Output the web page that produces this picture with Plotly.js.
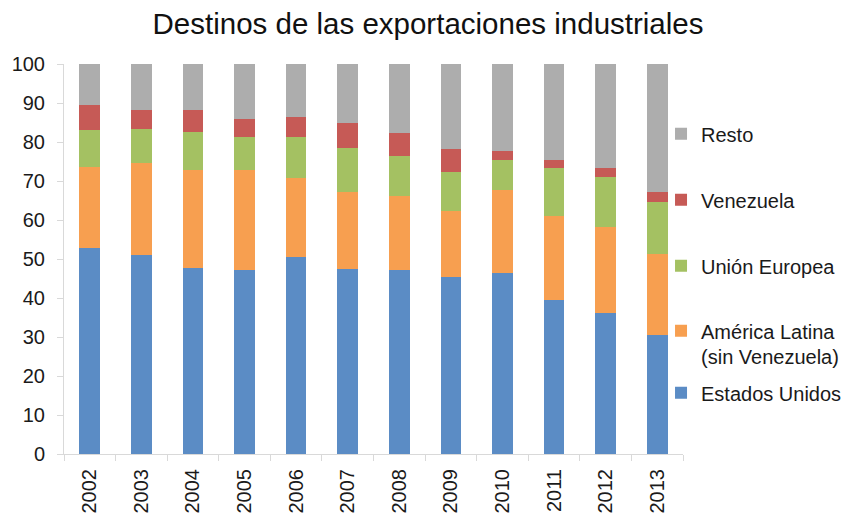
<!DOCTYPE html>
<html>
<head>
<meta charset="utf-8">
<script src="https://cdn.plot.ly/plotly-3.0.1.min.js"></script>
<style>html,body{margin:0;padding:0;background:#fff;}#chart{width:856px;height:517px;}</style>
</head>
<body>
<div id="chart"></div>
<script>
const years = ["2002","2003","2004","2005","2006","2007","2008","2009","2010","2011","2012","2013"];
const estadosUnidos = [52.9, 50.9, 47.7, 47.3, 50.5, 47.4, 47.2, 45.4, 46.4, 39.4, 36.2, 30.4];
const americaLatina = [20.6, 23.7, 25.2, 25.5, 20.2, 19.9, 18.9, 16.8, 21.3, 21.7, 21.9, 20.9];
const unionEuropea  = [9.7, 8.8, 9.7, 8.6, 10.7, 11.1, 10.2, 10.0, 7.7, 12.2, 12.9, 13.4];
const venezuela     = [6.3, 4.7, 5.5, 4.5, 5.0, 6.4, 6.0, 6.0, 2.3, 2.1, 2.4, 2.4];
const resto         = [10.5, 11.9, 11.9, 14.1, 13.6, 15.2, 17.7, 21.8, 22.3, 24.6, 26.6, 32.9];
const yTicks = [0,10,20,30,40,50,60,70,80,90,100];

const series = [
  {name: "Estados Unidos", y: estadosUnidos, color: "#5B8CC5", legend: "legend5"},
  {name: "América Latina<br>(sin Venezuela)", y: americaLatina, color: "#F79F50", legend: "legend4"},
  {name: "Unión Europea", y: unionEuropea, color: "#A4C162", legend: "legend3"},
  {name: "Venezuela", y: venezuela, color: "#C65A56", legend: "legend2"},
  {name: "Resto", y: resto, color: "#ADADAD", legend: "legend"}
];

const traces = series.map(s => ({
  type: "bar", x: years, y: s.y, name: s.name,
  marker: {color: s.color, line: {width: 0}},
  legend: s.legend, hoverinfo: "none"
}));

const txtFont = {family: "Liberation Sans, Arial, sans-serif", size: 20, color: "#1a1a1a"};
function leg(y) {
  return {x: 0.9645, xanchor: "left", y: y, yanchor: "middle", font: txtFont,
          bgcolor: "rgba(0,0,0,0)", borderwidth: 0, valign: "top",
          itemwidth: 30, xref: "paper", yref: "paper"};
}
// paper y: plot from 64 (top) to 454 (bottom) -> height 390
function py(pix) { return (454.3 - pix) / 390; }

const layout = {
  width: 856, height: 517,
  margin: {l: 64, r: 173, t: 64, b: 63, autoexpand: false},
  paper_bgcolor: "#ffffff", plot_bgcolor: "#ffffff",
  barmode: "stack", bargap: 0.6,
  title: {text: "Destinos de las exportaciones industriales",
          font: {family: "Liberation Sans, Arial, sans-serif", size: 29.5, color: "#111"},
          x: 0.5, xanchor: "center", xref: "container", y: 0.955, yanchor: "middle"},
  xaxis: {type: "category", showline: true, linecolor: "#d9d9d9", linewidth: 1,
          ticks: "outside", tickson: "boundaries", ticklen: 6, tickcolor: "#d9d9d9",
          tickangle: -90, tickfont: txtFont, ticklabelstandoff: 6,
          showgrid: false, zeroline: false, fixedrange: true},
  yaxis: {range: [0, 100], tickvals: yTicks, ticktext: yTicks.map(String),
          showline: true, linecolor: "#d9d9d9", linewidth: 1,
          ticks: "outside", ticklen: 6, tickcolor: "#d9d9d9",
          tickfont: txtFont, ticklabelstandoff: 8,
          showgrid: false, zeroline: false, fixedrange: true},
  legend: leg(py(134)),
  legend2: leg(py(200)),
  legend3: leg(py(266)),
  legend4: leg(py(344)),
  legend5: leg(py(393)),
  showlegend: true
};

Plotly.newPlot("chart", traces, layout, {displayModeBar: false, staticPlot: true});
</script>
</body>
</html>
